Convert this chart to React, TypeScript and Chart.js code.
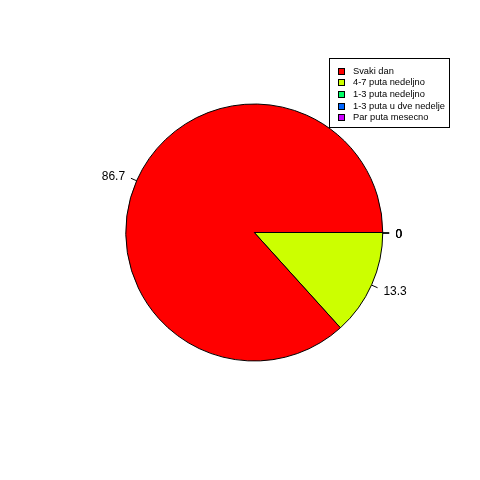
import React, { useEffect, useRef } from "react";
import { Chart, registerables } from "chart.js";

Chart.register(...registerables);

const categories = [
  "Svaki dan",
  "4-7 puta nedeljno",
  "1-3 puta nedeljno",
  "1-3 puta u dve nedelje",
  "Par puta mesecno",
];
const values = [86.7, 13.3, 0, 0, 0];
const valueLabels = ["86.7", "13.3", "0", "0", "0"];
const colors = ["#FF0000", "#CCFF00", "#00FF66", "#0066FF", "#CC00FF"];

export default function App() {
  const ref = useRef<HTMLCanvasElement | null>(null);

  useEffect(() => {
    if (!ref.current) return;
    // R draws counter-clockwise from 3 o'clock; Chart.js draws clockwise, so reverse order
    const order = values.map((_, i) => values.length - 1 - i);
    const data = order.map((i) => values[i]);
    const bg = order.map((i) => colors[i]);
    const lbls = order.map((i) => valueLabels[i]);

    const labelPlugin = {
      id: "rLabels",
      afterDatasetsDraw(chart: any) {
        const ctx = chart.ctx;
        const meta = chart.getDatasetMeta(0);
        ctx.save();
        ctx.strokeStyle = "#000";
        ctx.lineWidth = 1;
        ctx.fillStyle = "#000";
        ctx.font = "12px 'Liberation Sans', Arial, sans-serif";
        ctx.textBaseline = "middle";
        meta.data.forEach((arc: any, k: number) => {
          const a = (arc.startAngle + arc.endAngle) / 2;
          const r = arc.outerRadius;
          const cx = arc.x;
          const cy = arc.y;
          const c = Math.cos(a);
          const s = Math.sin(a);
          ctx.beginPath();
          ctx.moveTo(cx + r * c, cy + r * s + 0.5);
          ctx.lineTo(cx + 1.05 * r * c, cy + 1.05 * r * s + 0.5);
          ctx.stroke();
          ctx.textAlign = c >= 0 ? "left" : "right";
          ctx.fillText(lbls[k], cx + 1.1 * r * c, cy + 1.1 * r * s + 2);
        });
        ctx.restore();
      },
      afterDraw(chart: any) {
        const ctx = chart.ctx;
        ctx.save();
        const bx = 329.5, by = 58.5, bw = 120, bh = 69;
        ctx.fillStyle = "#fff";
        ctx.fillRect(bx, by, bw, bh);
        ctx.strokeStyle = "#000";
        ctx.lineWidth = 1;
        ctx.strokeRect(bx, by, bw, bh);
        ctx.font = "9.3px 'Liberation Sans', Arial, sans-serif";
        ctx.textBaseline = "middle";
        ctx.textAlign = "left";
        categories.forEach((cat, i) => {
          const yc = 70.5 + i * 11.7;
          ctx.fillStyle = colors[i];
          ctx.fillRect(338, Math.round(yc - 3), 6, 6);
          ctx.strokeRect(338.5, Math.round(yc - 3) + 0.5, 6, 6);
          ctx.fillStyle = "#000";
          ctx.fillText(cat, 353, yc + 0.5);
        });
        ctx.restore();
      },
    };

    const chart = new Chart(ref.current, {
      type: "pie",
      data: {
        labels: order.map((i) => categories[i]),
        datasets: [
          {
            data,
            backgroundColor: bg,
            borderColor: "#000",
            borderWidth: 1,
          },
        ],
      },
      options: {
        responsive: false,
        animation: false,
        rotation: 90,
        layout: { padding: { left: 125, right: 96.5, top: 103.5, bottom: 118.5 } },
        plugins: {
          legend: { display: false },
          tooltip: { enabled: false },
        },
      },
      plugins: [labelPlugin],
    });
    return () => chart.destroy();
  }, []);

  return (
    <div style={{ position: "fixed", left: 0, top: 0, width: 480, height: 480, background: "#fff" }}>
      <canvas ref={ref} width={480} height={480} style={{ width: 480, height: 480 }} />
    </div>
  );
}
